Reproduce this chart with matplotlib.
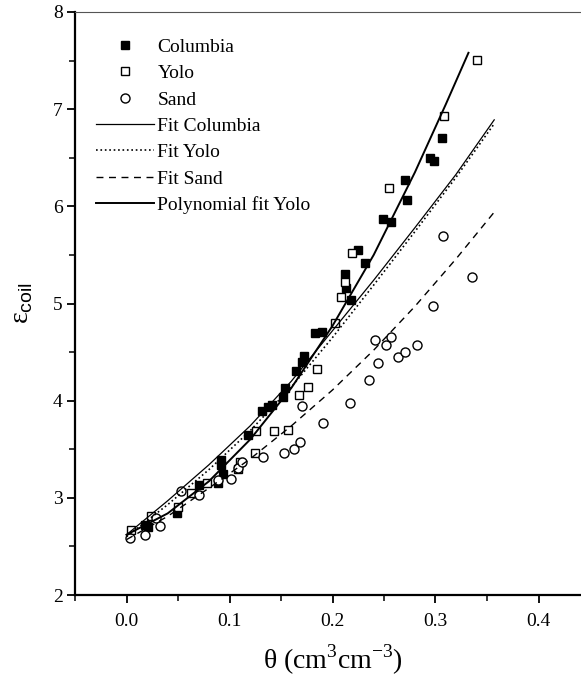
import matplotlib
matplotlib.use('Agg')
import matplotlib.pyplot as plt
from matplotlib.ticker import MultipleLocator

# measured points
columbia_x = [0.018, 0.021, 0.049, 0.070, 0.089, 0.092, 0.092, 0.094, 0.118, 0.132, 0.137,
              0.141, 0.152, 0.154, 0.165, 0.170, 0.172, 0.183, 0.190, 0.212, 0.213, 0.218,
              0.225, 0.232, 0.249, 0.257, 0.270, 0.272, 0.295, 0.299, 0.306]
columbia_y = [2.72, 2.70, 2.84, 3.13, 3.15, 3.39, 3.34, 3.25, 3.65, 3.89, 3.93,
              3.96, 4.04, 4.13, 4.31, 4.40, 4.46, 4.70, 4.71, 5.30, 5.16, 5.04,
              5.55, 5.42, 5.87, 5.84, 6.27, 6.07, 6.50, 6.47, 6.70]

yolo_x = [0.004, 0.024, 0.050, 0.063, 0.078, 0.108, 0.110, 0.125, 0.126, 0.143, 0.157,
          0.167, 0.176, 0.185, 0.202, 0.208, 0.212, 0.219, 0.255, 0.308, 0.340]
yolo_y = [2.67, 2.81, 2.91, 3.05, 3.15, 3.30, 3.37, 3.46, 3.69, 3.69, 3.70,
          4.06, 4.14, 4.33, 4.80, 5.07, 5.22, 5.52, 6.19, 6.93, 7.51]

sand_x = [0.003, 0.018, 0.029, 0.033, 0.053, 0.070, 0.089, 0.101, 0.108, 0.112, 0.133,
          0.153, 0.163, 0.168, 0.170, 0.191, 0.217, 0.235, 0.241, 0.244, 0.252, 0.257,
          0.264, 0.270, 0.282, 0.298, 0.307, 0.335]
sand_y = [2.59, 2.62, 2.79, 2.71, 3.07, 3.03, 3.18, 3.19, 3.31, 3.37, 3.42,
          3.46, 3.50, 3.57, 3.94, 3.77, 3.98, 4.21, 4.62, 4.39, 4.57, 4.66,
          4.45, 4.50, 4.57, 4.97, 5.69, 5.27]

# fitted curves
fit_x = [0.0, 0.04, 0.08, 0.12, 0.16, 0.20, 0.24, 0.28, 0.32, 0.357]
fit_columbia_y = [2.62, 2.97, 3.34, 3.74, 4.20, 4.72, 5.24, 5.78, 6.33, 6.89]
fit_yolo_y = [2.60, 2.93, 3.29, 3.69, 4.14, 4.65, 5.19, 5.74, 6.30, 6.85]
fit_sand_y = [2.57, 2.81, 3.10, 3.40, 3.74, 4.11, 4.52, 4.97, 5.46, 5.94]

poly_x = [0.0, 0.04, 0.08, 0.12, 0.16, 0.20, 0.24, 0.28, 0.31, 0.332]
poly_y = [2.62, 2.84, 3.17, 3.60, 4.13, 4.77, 5.50, 6.35, 7.05, 7.58]

plt.rcParams['font.family'] = ['Liberation Serif', 'DejaVu Serif']
plt.rcParams['mathtext.fontset'] = 'custom'
plt.rcParams['mathtext.rm'] = 'Liberation Serif'
plt.rcParams['mathtext.sf'] = 'Liberation Sans'

W, H = 581, 683
fig = plt.figure(figsize=(W / 100, H / 100), dpi=100)
ax = fig.add_axes([75 / W, 88 / H, 515 / W, 583 / H])

ax.plot(columbia_x, columbia_y, 's', color='black', ms=6, label='Columbia')
ax.plot(yolo_x, yolo_y, 's', mfc='white', mec='black', mew=1.0, ms=6, label='Yolo')
ax.plot(sand_x, sand_y, 'o', mfc='white', mec='black', mew=1.0, ms=6.5, label='Sand')
ax.plot(fit_x, fit_columbia_y, '-', color='black', lw=0.9, label='Fit Columbia')
ax.plot(fit_x, fit_yolo_y, ':', color='black', lw=1.2, label='Fit Yolo')
ax.plot(fit_x, fit_sand_y, '--', color='black', lw=1.0, dashes=(5, 4), label='Fit Sand')
ax.plot(poly_x, poly_y, '-', color='black', lw=1.4, label='Polynomial fit Yolo')

ax.set_xlim(-0.05, 0.45)
ax.set_ylim(2, 8)
ax.xaxis.set_minor_locator(MultipleLocator(0.05))
ax.yaxis.set_major_locator(MultipleLocator(1))
ax.yaxis.set_minor_locator(MultipleLocator(0.5))
ax.set_xticks([0.0, 0.1, 0.2, 0.3, 0.4])
ax.set_xticklabels(['0.0', '0.1', '0.2', '0.3', '0.4'])

ax.spines['right'].set_visible(False)
ax.spines['left'].set_linewidth(1.6)
ax.spines['bottom'].set_linewidth(1.6)
ax.spines['top'].set_linewidth(0.8)
ax.spines['top'].set_color('#555555')

ax.tick_params(axis='both', which='major', direction='out', length=6, width=1.3, labelsize=14)
ax.tick_params(axis='both', which='minor', direction='out', length=4, width=1.1)
ax.tick_params(axis='x', which='major', pad=7)
ax.tick_params(axis='y', which='major', pad=3)

ax.set_xlabel('θ (cm$^{3}$cm$^{-3}$)', fontsize=20)
ax.xaxis.set_label_coords(0.5, -0.082)
ax.set_ylabel('ε$_{\\mathsf{coil}}$', fontsize=20)
ax.yaxis.set_label_coords(-0.078, 0.5)

ax.legend(loc='upper left', bbox_to_anchor=(0.041, 0.955), frameon=False, fontsize=14,
          handlelength=3.0, handletextpad=0.15, labelspacing=0.45, borderpad=0,
          borderaxespad=0, numpoints=1)

fig.savefig('out.png', dpi=100)
